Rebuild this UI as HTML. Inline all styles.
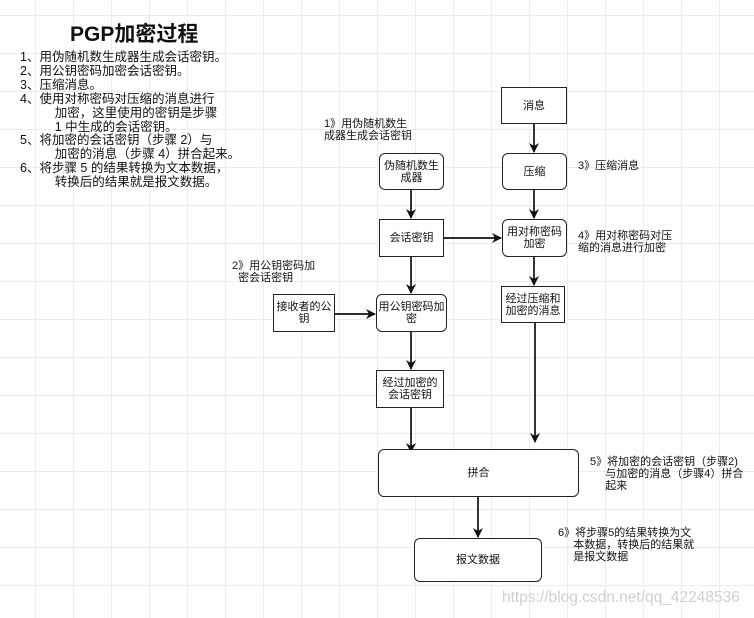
<!DOCTYPE html>
<html><head><meta charset="utf-8"><style>
body{margin:0;width:754px;height:618px;overflow:hidden;background:#fff;
background-image:linear-gradient(#ececec 1px,transparent 1px),linear-gradient(90deg,#ececec 1px,transparent 1px);
background-size:38px 38px;background-position:35px 15px;
font-family:"Liberation Sans","Noto Sans CJK SC",sans-serif;position:relative}
.b{position:absolute;border:1.5px solid #222;background:#fff;box-sizing:border-box;display:flex;align-items:center;justify-content:center;text-align:center;font-size:11px;line-height:12px;color:#111}
.r{border-radius:6px}
.t{position:absolute;font-size:11px;line-height:12px;color:#111;white-space:nowrap}
</style></head><body>
<div class="t" style="left:70px;top:22px;font-size:21px;line-height:26px;font-weight:bold">PGP加密过程</div>
<div class="t" style="left:20px;top:51px;font-size:12.5px;line-height:13.9px">
1、用伪随机数生成器生成会话密钥。<br>2、用公钥密码加密会话密钥。<br>3、压缩消息。<br>4、使用对称密码对压缩的消息进行<br>&nbsp;&nbsp;&nbsp;&nbsp;&nbsp;&nbsp;&nbsp;&nbsp;&nbsp;&nbsp;加密，这里使用的密钥是步骤<br>&nbsp;&nbsp;&nbsp;&nbsp;&nbsp;&nbsp;&nbsp;&nbsp;&nbsp;&nbsp;1 中生成的会话密钥。<br>5、将加密的会话密钥（步骤 2）与<br>&nbsp;&nbsp;&nbsp;&nbsp;&nbsp;&nbsp;&nbsp;&nbsp;&nbsp;&nbsp;加密的消息（步骤 4）拼合起来。<br>6、将步骤 5 的结果转换为文本数据，<br>&nbsp;&nbsp;&nbsp;&nbsp;&nbsp;&nbsp;&nbsp;&nbsp;&nbsp;&nbsp;转换后的结果就是报文数据。</div>

<svg style="position:absolute;left:0;top:0" width="754" height="618">
<defs><marker id="a" markerWidth="10" markerHeight="10" refX="9" refY="5" orient="auto" markerUnits="userSpaceOnUse"><path d="M0,0L10,5L0,10L3,5Z" fill="#111"/></marker></defs>
<g stroke="#111" stroke-width="1.7" fill="none" marker-end="url(#a)">
<line x1="534" y1="124" x2="534" y2="152"/>
<line x1="534" y1="190" x2="534" y2="218"/>
<line x1="534" y1="257" x2="534" y2="285"/>
<line x1="411" y1="190" x2="411" y2="218"/>
<line x1="444" y1="238" x2="501" y2="238"/>
<line x1="411" y1="257" x2="411" y2="293"/>
<line x1="335" y1="314" x2="375" y2="314"/>
<line x1="411" y1="332" x2="411" y2="369"/>
<line x1="411" y1="408" x2="411" y2="452"/>
<line x1="535" y1="323" x2="535" y2="442"/>
<line x1="478" y1="497" x2="478" y2="537"/>
</g></svg>

<div class="b" style="left:501px;top:87px;width:66px;height:37px">消息</div>
<div class="b r" style="left:502px;top:153px;width:65px;height:37px">压缩</div>
<div class="b r" style="left:502px;top:219px;width:65px;height:38px">用对称密码<br>加密</div>
<div class="b" style="left:501px;top:286px;width:64px;height:37px">经过压缩和<br>加密的消息</div>
<div class="b r" style="left:379px;top:153px;width:65px;height:37px">伪随机数生<br>成器</div>
<div class="b" style="left:379px;top:219px;width:65px;height:38px">会话密钥</div>
<div class="b r" style="left:376px;top:294px;width:71px;height:38px">用公钥密码加<br>密</div>
<div class="b" style="left:273px;top:294px;width:62px;height:38px">接收者的公<br>钥</div>
<div class="b" style="left:376px;top:370px;width:68px;height:38px">经过加密的<br>会话密钥</div>
<div class="b r" style="left:378px;top:449px;width:201px;height:48px">拼合</div>
<div class="b r" style="left:414px;top:538px;width:128px;height:44px">报文数据</div>

<div class="t" style="left:324px;top:118px">1》用伪随机数生<br>成器生成会话密钥</div>
<div class="t" style="left:578px;top:160px">3》压缩消息</div>
<div class="t" style="left:578px;top:230px">4》用对称密码对压<br>缩的消息进行加密</div>
<div class="t" style="left:232px;top:260px">2》用公钥密码加<br>&nbsp;&nbsp;密会话密钥</div>
<div class="t" style="left:590px;top:456px">5》将加密的会话密钥（步骤2)<br>&nbsp;&nbsp;&nbsp;&nbsp;&nbsp;与加密的消息（步骤4）拼合<br>&nbsp;&nbsp;&nbsp;&nbsp;&nbsp;起来</div>
<div class="t" style="left:558px;top:527px">6》将步骤5的结果转换为文<br>&nbsp;&nbsp;&nbsp;&nbsp;&nbsp;本数据，转换后的结果就<br>&nbsp;&nbsp;&nbsp;&nbsp;&nbsp;是报文数据</div>
<div class="t" style="left:502px;top:589px;font-size:15.5px;line-height:18px;color:#cfcfcf">https://blog.csdn.net/qq_42248536</div>
</body></html>
